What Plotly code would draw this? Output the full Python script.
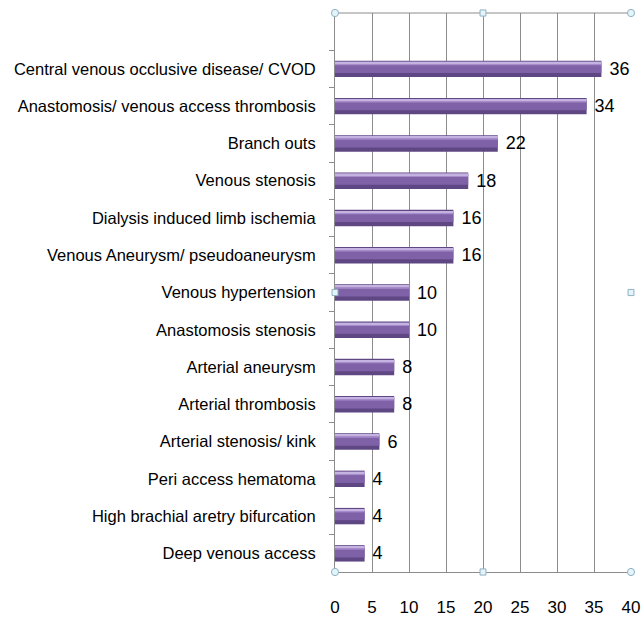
import plotly.graph_objects as go

# categories listed bottom to top
categories = [
    "Deep venous access",
    "High brachial aretry bifurcation",
    "Peri access hematoma",
    "Arterial stenosis/ kink",
    "Arterial thrombosis",
    "Arterial aneurysm",
    "Anastomosis stenosis",
    "Venous hypertension",
    "Venous Aneurysm/ pseudoaneurysm",
    "Dialysis induced limb ischemia",
    "Venous stenosis",
    "Branch outs",
    "Anastomosis/ venous access thrombosis",
    "Central venous occlusive disease/ CVOD",
]
counts = [4, 4, 4, 6, 8, 8, 10, 10, 16, 16, 18, 22, 34, 36]
x_ticks = [0, 5, 10, 15, 20, 25, 30, 35, 40]

pos = list(range(len(categories)))
FONT = "Liberation Sans, Arial, sans-serif"

fig = go.Figure()

# fake cylinder shading: dark base, mid body, light top strip
layers = [
    (-0.22, 0.44, "#5f4784"),
    (-0.11, 0.29, "#7f61a8"),
    (0.10, 0.09, "#a68cca"),
    (0.15, 0.04, "#c4b2e0"),
]
for i, (off, w, col) in enumerate(layers):
    fig.add_trace(go.Bar(
        x=counts, y=pos, orientation="h",
        offset=off, width=w,
        marker_color=col, marker_line_width=0,
        texttemplate=" %{x}" if i == 0 else None,
        textposition="outside" if i == 0 else None,
        textfont=dict(size=18, color="black", family=FONT),
        constraintext="none",
        cliponaxis=False,
        hoverinfo="skip", showlegend=False,
    ))

fig.update_layout(
    width=642, height=620,
    barmode="overlay",
    plot_bgcolor="white", paper_bgcolor="white",
    margin=dict(l=335, r=11, t=13, b=48),
    font=dict(family=FONT, size=16.5, color="black"),
    xaxis=dict(
        range=[0, 40], tickvals=x_ticks, automargin=False,
        showgrid=True, gridcolor="#8c8c8c", gridwidth=1,
        zeroline=False, showline=True, linecolor="#8c8c8c",
        ticks="", ticklabelstandoff=20,
        tickfont=dict(size=17, family=FONT),
    ),
    yaxis=dict(
        range=[-0.5, 14.5], tickvals=pos, ticktext=categories,
        automargin=False,
        showgrid=False, zeroline=False,
        showline=True, linecolor="#8c8c8c",
        ticks="", ticklabelstandoff=15,
        tickfont=dict(size=16.5, family=FONT),
        minor=dict(tickvals=[p + 0.5 for p in pos], ticks="outside",
                   ticklen=5, tickcolor="#8c8c8c", showgrid=False),
    ),
)

# top frame line (selection border)
fig.add_shape(type="line", xref="paper", yref="paper", x0=0, x1=1, y0=1, y1=1,
              line=dict(color="#8c8c8c", width=1))

# selection handles
for hx, hy in [(0, 1), (1, 1), (0, 0), (1, 0)]:
    fig.add_shape(type="circle", xref="paper", yref="paper",
                  x0=hx - 0.012, x1=hx + 0.012, y0=hy - 0.0065, y1=hy + 0.0065,
                  fillcolor="#e4f4f8", line=dict(color="#8fb3c3", width=1))
for hx, hy in [(0.5, 1), (0.5, 0), (0, 0.5), (1, 0.5)]:
    fig.add_shape(type="rect", xref="paper", yref="paper",
                  x0=hx - 0.01, x1=hx + 0.01, y0=hy - 0.0055, y1=hy + 0.0055,
                  fillcolor="#e4f4f8", line=dict(color="#8fb3c3", width=1))

fig.write_html("out.html", config={"displayModeBar": False},
               post_script="document.body.style.margin='0';")
